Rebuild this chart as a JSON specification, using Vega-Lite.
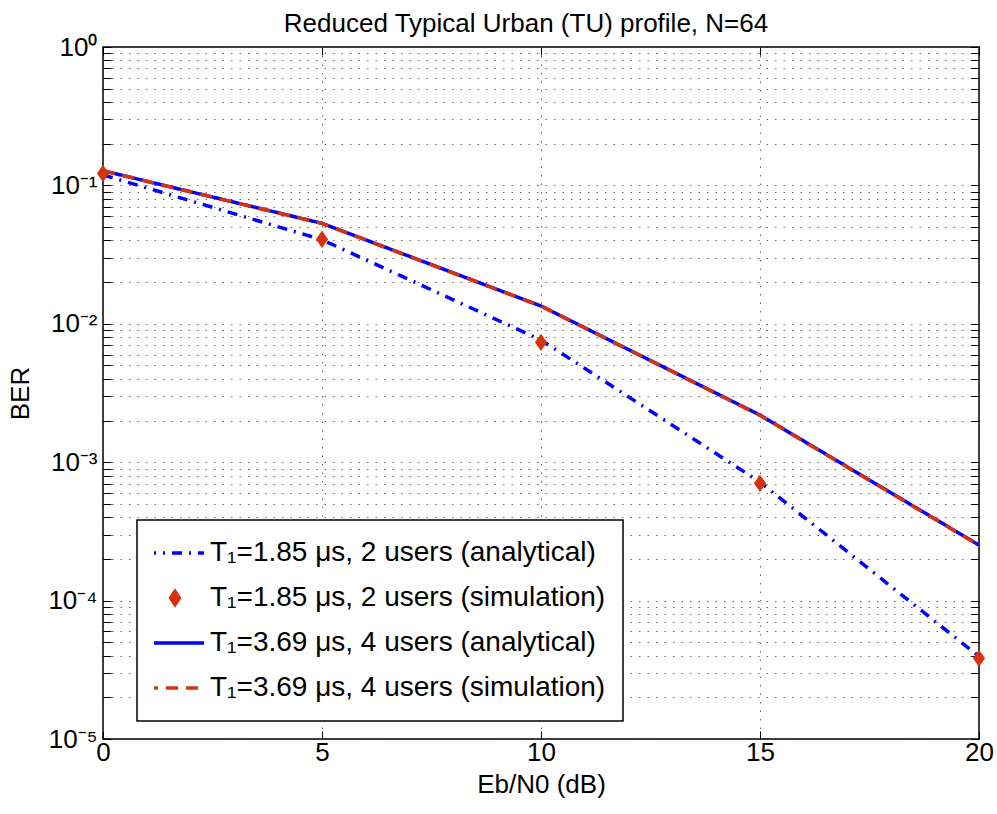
{
  "$schema": "https://vega.github.io/schema/vega-lite/v6.json",
  "width": 876,
  "height": 692,
  "autosize": "none",
  "padding": {"left": 103, "top": 47, "right": 18, "bottom": 75},
  "background": "white",
  "config": {
    "font": "Liberation Sans",
    "view": {"stroke": "black", "strokeWidth": 1.5},
    "axis": {
      "labelFont": "Liberation Sans",
      "titleFont": "Liberation Sans",
      "labelColor": "black",
      "titleColor": "black",
      "labelFontSize": 26,
      "titleFontSize": 26,
      "titleFontWeight": "normal",
      "domainColor": "black",
      "tickColor": "black",
      "gridColor": "#333333",
      "gridOpacity": 0.75,
      "gridDash": [1.5, 7],
      "gridWidth": 1
    }
  },
  "title": {
    "text": "Reduced Typical Urban (TU) profile, N=64",
    "font": "Liberation Sans",
    "fontSize": 26,
    "fontWeight": "normal",
    "color": "black",
    "offset": -3,
    "dx": -15
  },
  "data": {
    "values": [
      {"snr": 0, "ber": 0.119, "series": "T₁=1.85 μs, 2 users (analytical)"},
      {"snr": 5, "ber": 0.0405, "series": "T₁=1.85 μs, 2 users (analytical)"},
      {"snr": 10, "ber": 0.00764, "series": "T₁=1.85 μs, 2 users (analytical)"},
      {"snr": 15, "ber": 0.000718, "series": "T₁=1.85 μs, 2 users (analytical)"},
      {"snr": 20, "ber": 0.0000395, "series": "T₁=1.85 μs, 2 users (analytical)"},
      {"snr": 0, "ber": 0.122, "series": "T₁=1.85 μs, 2 users (simulation)"},
      {"snr": 5, "ber": 0.0408, "series": "T₁=1.85 μs, 2 users (simulation)"},
      {"snr": 10, "ber": 0.00735, "series": "T₁=1.85 μs, 2 users (simulation)"},
      {"snr": 15, "ber": 0.000704, "series": "T₁=1.85 μs, 2 users (simulation)"},
      {"snr": 20, "ber": 0.0000383, "series": "T₁=1.85 μs, 2 users (simulation)"},
      {"snr": 0, "ber": 0.1277, "series": "T₁=3.69 μs, 4 users (analytical)"},
      {"snr": 5, "ber": 0.0532, "series": "T₁=3.69 μs, 4 users (analytical)"},
      {"snr": 10, "ber": 0.01345, "series": "T₁=3.69 μs, 4 users (analytical)"},
      {"snr": 15, "ber": 0.00219, "series": "T₁=3.69 μs, 4 users (analytical)"},
      {"snr": 20, "ber": 0.000252, "series": "T₁=3.69 μs, 4 users (analytical)"},
      {"snr": 0, "ber": 0.1275, "series": "T₁=3.69 μs, 4 users (simulation)"},
      {"snr": 5, "ber": 0.0531, "series": "T₁=3.69 μs, 4 users (simulation)"},
      {"snr": 10, "ber": 0.01342, "series": "T₁=3.69 μs, 4 users (simulation)"},
      {"snr": 15, "ber": 0.00218, "series": "T₁=3.69 μs, 4 users (simulation)"},
      {"snr": 20, "ber": 0.000251, "series": "T₁=3.69 μs, 4 users (simulation)"}
    ]
  },
  "resolve": {"axis": {"x": "independent", "y": "independent"}},
  "layer": [
    {
      "transform": [{"filter": "indexof(datum.series, '1.85') < 0 || indexof(datum.series, 'simulation') < 0"}],
      "mark": {"type": "line", "strokeWidth": 3.5, "clip": true},
      "encoding": {
        "x": {
          "field": "snr", "type": "quantitative",
          "scale": {"domain": [0, 20], "nice": false, "zero": false},
          "axis": {
            "title": "Eb/N0 (dB)",
            "values": [0, 5, 10, 15, 20],
            "grid": true,
            "tickSize": -8,
            "labelPadding": 8,
            "titlePadding": 6,
            "domain": false,
            "labelFlush": false
          }
        },
        "y": {
          "field": "ber", "type": "quantitative",
          "scale": {"type": "log", "domain": [0.00001, 1], "nice": false},
          "axis": {
            "title": "BER",
            "values": [0.00001, 0.00002, 0.00003, 0.00004, 0.00005, 0.00006, 0.00007, 0.00008, 0.00009,
                       0.0001, 0.0002, 0.0003, 0.0004, 0.0005, 0.0006, 0.0007, 0.0008, 0.0009,
                       0.001, 0.002, 0.003, 0.004, 0.005, 0.006, 0.007, 0.008, 0.009,
                       0.01, 0.02, 0.03, 0.04, 0.05, 0.06, 0.07, 0.08, 0.09,
                       0.1, 0.2, 0.3, 0.4, 0.5, 0.6, 0.7, 0.8, 0.9, 1],
            "labelExpr": "datum.value == 1 ? '10⁰' : datum.value == 0.1 ? '10⁻¹' : datum.value == 0.01 ? '10⁻²' : datum.value == 0.001 ? '10⁻³' : datum.value == 0.0001 ? '10⁻⁴' : datum.value == 0.00001 ? '10⁻⁵' : ''",
            "grid": true,
            "tickSize": -8,
            "labelPadding": 14,
            "titlePadding": 14,
            "domain": false,
            "labelFlush": false,
            "labelOverlap": false
          }
        },
        "color": {
          "field": "series", "type": "nominal",
          "scale": {
            "domain": ["T₁=1.85 μs, 2 users (analytical)", "T₁=1.85 μs, 2 users (simulation)", "T₁=3.69 μs, 4 users (analytical)", "T₁=3.69 μs, 4 users (simulation)"],
            "range": ["#0000ff", "#d8320c", "#0000ff", "#d8320c"]
          },
          "legend": {
            "title": null,
            "orient": "none",
            "legendX": 34,
            "legendY": 473,
            "direction": "vertical",
            "fillColor": "white",
            "strokeColor": "black",
            "padding": 17,
            "labelFont": "Liberation Sans",
            "labelFontSize": 28,
            "labelColor": "black",
            "labelLimit": 0,
            "labelOffset": 4,
            "symbolOffset": -10,
            "symbolType": "stroke",
            "symbolSize": 3364,
            "symbolStrokeWidth": 3.5,
            "clipHeight": 32,
            "rowPadding": 13,
            "encoding": {
              "legend": {"strokeWidth": {"value": 1.5}},
              "symbols": {
                "shape": {"value": {"expr": "indexof(datum.value, '1.85') >= 0 && indexof(datum.value, 'simulation') >= 0 ? 'M0,-0.23L0.15,0L0,0.23L-0.15,0Z' : 'stroke'"}},
                "fill": {"value": {"expr": "indexof(datum.value, '1.85') >= 0 && indexof(datum.value, 'simulation') >= 0 ? '#d8320c' : 'transparent'"}},
                "strokeDash": {"value": {"expr": "indexof(datum.value, '1.85') >= 0 && indexof(datum.value, 'analytical') >= 0 ? [10, 7, 2, 7] : indexof(datum.value, '3.69') >= 0 && indexof(datum.value, 'simulation') >= 0 ? [12, 8] : [1, 0]"}}
              }
            }
          }
        },
        "strokeDash": {
          "field": "series", "type": "nominal",
          "scale": {
            "domain": ["T₁=1.85 μs, 2 users (analytical)", "T₁=1.85 μs, 2 users (simulation)", "T₁=3.69 μs, 4 users (analytical)", "T₁=3.69 μs, 4 users (simulation)"],
            "range": [[10, 7, 2, 7], [1, 0], [1, 0], [12, 8]]
          },
          "legend": null
        }
      }
    },
    {
      "transform": [{"filter": "indexof(datum.series, '1.85') >= 0 && indexof(datum.series, 'simulation') >= 0"}],
      "mark": {"type": "point", "shape": "M0,-1L0.7,0L0,1L-0.7,0Z", "filled": true, "size": 300, "opacity": 1, "color": "#d8320c", "clip": false},
      "encoding": {
        "x": {
          "field": "snr", "type": "quantitative",
          "axis": {"orient": "top", "values": [0, 5, 10, 15, 20], "labels": false, "title": null, "grid": false, "tickSize": -8, "domain": false}
        },
        "y": {
          "field": "ber", "type": "quantitative",
          "axis": {
            "orient": "right", "labels": false, "title": null, "grid": false, "tickSize": -8, "domain": false,
            "values": [0.00001, 0.00002, 0.00003, 0.00004, 0.00005, 0.00006, 0.00007, 0.00008, 0.00009,
                       0.0001, 0.0002, 0.0003, 0.0004, 0.0005, 0.0006, 0.0007, 0.0008, 0.0009,
                       0.001, 0.002, 0.003, 0.004, 0.005, 0.006, 0.007, 0.008, 0.009,
                       0.01, 0.02, 0.03, 0.04, 0.05, 0.06, 0.07, 0.08, 0.09,
                       0.1, 0.2, 0.3, 0.4, 0.5, 0.6, 0.7, 0.8, 0.9, 1]
          }
        }
      }
    }
  ]
}
